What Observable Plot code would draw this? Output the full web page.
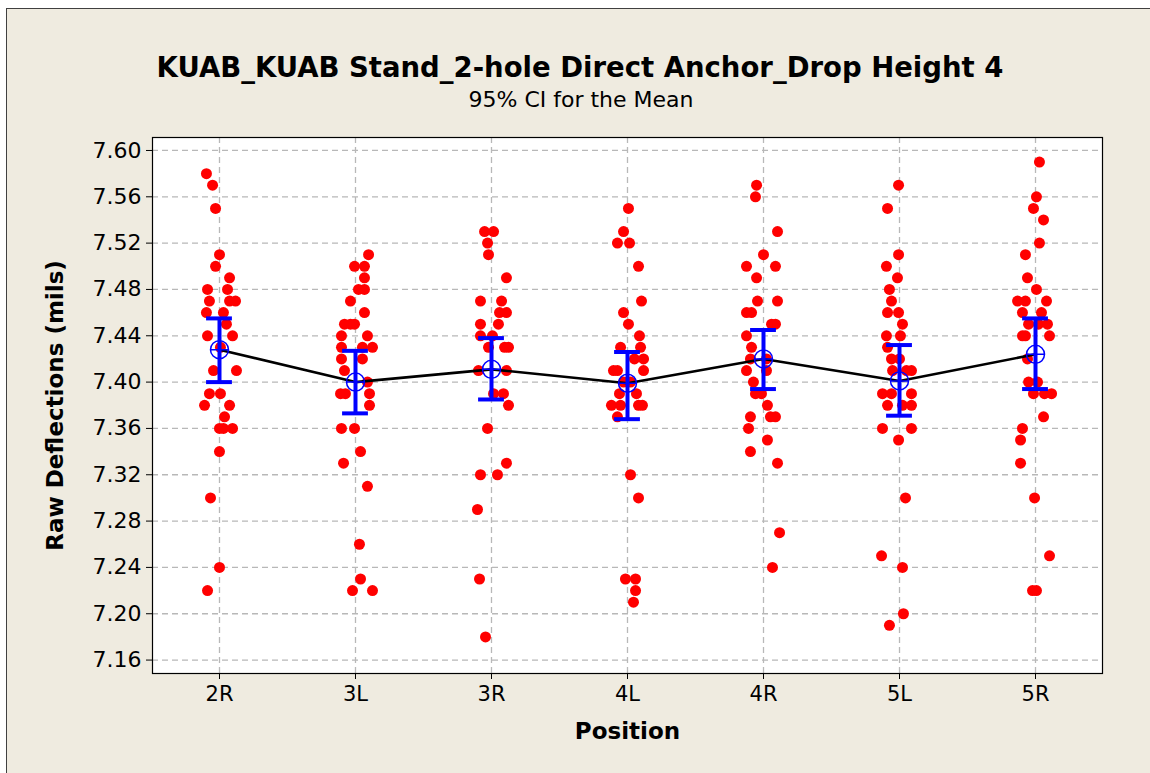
<!DOCTYPE html>
<html>
<head>
<meta charset="utf-8">
<script src="https://cdn.jsdelivr.net/npm/d3@7"></script>
<script src="https://cdn.jsdelivr.net/npm/@observablehq/plot@0.6"></script>
<style>
  html, body { margin: 0; padding: 0; background: #ffffff; }
  #page { position: relative; width: 1150px; height: 773px; overflow: hidden; font-family: "DejaVu Sans", Verdana, sans-serif; }
  #bg { position: absolute; left: 6px; top: 8px; right: 0; bottom: 0; background: #efebe0; border-left: 1.5px solid #404040; border-top: 1.5px solid #404040; }
  #title { position: absolute; left: 0; width: 1160px; top: 50px; text-align: center; font-weight: bold; font-size: 27.5px; line-height: 34px; color: #000; }
  #subtitle { position: absolute; left: 0; width: 1162px; top: 86px; text-align: center; font-size: 22px; line-height: 28px; color: #000; }
  #chart { position: absolute; left: 0; top: 0; }
</style>
</head>
<body>
<div id="page">
  <div id="bg"></div>
  <div id="chart"></div>
  <div id="title">KUAB_KUAB Stand_2-hole Direct Anchor_Drop Height 4</div>
  <div id="subtitle">95% CI for the Mean</div>
</div>
<script>
// ---- Data ----
const positions = ["2R", "3L", "3R", "4L", "4R", "5L", "5R"];

const values2R = [7.58,7.57,7.55,7.51,7.50,7.49,7.48,7.48,7.47,7.47,7.47,7.46,7.46,7.45,7.44,7.44,7.43,7.41,7.41,7.39,7.39,7.38,7.38,7.37,7.36,7.36,7.36,7.34,7.30,7.24,7.22];
const values3L = [7.51,7.50,7.50,7.49,7.48,7.48,7.47,7.46,7.45,7.45,7.45,7.44,7.44,7.43,7.43,7.43,7.42,7.42,7.41,7.40,7.39,7.39,7.39,7.38,7.36,7.36,7.34,7.33,7.31,7.26,7.23,7.22,7.22];
const values3R = [7.53,7.53,7.52,7.51,7.49,7.47,7.47,7.46,7.46,7.45,7.45,7.44,7.44,7.43,7.43,7.43,7.41,7.41,7.39,7.39,7.38,7.36,7.33,7.32,7.32,7.29,7.23,7.18];
const values4L = [7.55,7.53,7.52,7.52,7.50,7.47,7.46,7.45,7.44,7.43,7.43,7.42,7.42,7.41,7.41,7.41,7.40,7.40,7.39,7.39,7.38,7.38,7.38,7.38,7.37,7.32,7.30,7.23,7.23,7.22,7.21];
const values4R = [7.57,7.56,7.53,7.51,7.50,7.50,7.49,7.47,7.47,7.46,7.46,7.45,7.45,7.44,7.43,7.42,7.42,7.41,7.41,7.40,7.39,7.39,7.38,7.37,7.37,7.37,7.36,7.35,7.34,7.33,7.27,7.24];
const values5L = [7.57,7.55,7.51,7.50,7.49,7.48,7.47,7.46,7.46,7.45,7.44,7.44,7.43,7.42,7.42,7.41,7.41,7.41,7.39,7.39,7.39,7.38,7.38,7.38,7.36,7.36,7.35,7.30,7.25,7.24,7.20,7.19];
const values5R = [7.59,7.56,7.55,7.54,7.52,7.51,7.49,7.48,7.47,7.47,7.47,7.46,7.46,7.45,7.45,7.45,7.44,7.44,7.44,7.42,7.40,7.40,7.39,7.39,7.39,7.37,7.36,7.35,7.33,7.30,7.25,7.22,7.22];

// horizontal jitter of each point, in category units
const jitter2R = [-0.096,-0.051,-0.029,0,-0.029,0.074,-0.088,0.059,-0.074,0.074,0.118,-0.096,0.029,0.051,-0.088,0.096,0.007,-0.044,0.125,-0.074,0.007,-0.110,0.074,0.037,0,0.029,0.096,0,-0.066,0,-0.088];
const jitter3L = [0.096,-0.007,0.066,0.066,0.022,0.066,-0.037,0.066,-0.081,-0.037,-0.007,-0.103,0.088,-0.103,0.051,0.125,-0.103,0.051,-0.081,0.088,-0.110,-0.074,0.103,0.103,-0.103,-0.007,0.037,-0.088,0.088,0.029,0.037,-0.022,0.125];
const jitter3R = [-0.051,0.015,-0.029,-0.022,0.110,-0.081,0.074,0.059,0.110,-0.081,0.051,-0.081,0.007,-0.022,0.096,0.125,-0.096,0.110,0.015,0.088,0.125,-0.029,0.110,-0.081,0.044,-0.103,-0.088,-0.044];
const jitter4L = [0.007,-0.029,-0.074,0.015,0.081,0.103,-0.029,0.007,0.088,-0.051,0.096,0.051,0.118,-0.103,-0.074,0.118,-0.029,0.022,-0.059,0.066,-0.118,-0.051,0.081,0.110,-0.074,0.022,0.081,-0.015,0.059,0.059,0.044];
const jitter4R = [-0.051,-0.059,0.103,0,-0.125,0.088,-0.051,-0.044,0.103,-0.125,-0.088,0.059,0.088,-0.125,-0.088,-0.096,0.022,-0.125,0.022,-0.074,-0.059,-0.015,0.029,-0.096,0.051,0.088,-0.110,0.029,-0.096,0.103,0.118,0.066];
const jitter5L = [-0.007,-0.088,-0.007,-0.096,-0.015,-0.074,-0.059,-0.088,-0.007,0.022,-0.096,0.007,-0.088,-0.059,0,-0.051,0.051,0.088,-0.125,-0.059,0.088,-0.088,0.022,0.088,-0.125,0.088,-0.007,0.044,-0.132,0.022,0.029,-0.074];
const jitter5R = [0.029,0.007,-0.015,0.059,0.029,-0.074,-0.059,0.007,-0.132,-0.074,0.081,-0.096,0.044,-0.051,0.022,0.088,-0.096,-0.074,0.103,-0.059,-0.051,0.015,-0.015,0.066,0.118,0.059,-0.096,-0.110,-0.110,-0.007,0.103,-0.022,0.007];

const means = [7.428, 7.400, 7.411, 7.399, 7.420, 7.401, 7.424];
const ciLower = [7.400, 7.373, 7.385, 7.368, 7.394, 7.371, 7.394];
const ciUpper = [7.455, 7.427, 7.438, 7.426, 7.445, 7.432, 7.455];

const yTicks = [7.16, 7.20, 7.24, 7.28, 7.32, 7.36, 7.40, 7.44, 7.48, 7.52, 7.56, 7.60];

// ---- Build tables ----
const allValues = [values2R, values3L, values3R, values4L, values4R, values5L, values5R];
const allJitter = [jitter2R, jitter3L, jitter3R, jitter4L, jitter4R, jitter5L, jitter5R];
const points = [];
allValues.forEach((vals, i) => vals.forEach((v, j) => points.push({x: i + allJitter[i][j], value: v})));
const summary = positions.map((p, i) => ({i, mean: means[i], lo: ciLower[i], hi: ciUpper[i]}));

const capHalf = 0.095;
const font = "DejaVu Sans, Verdana, sans-serif";

const meanSymbol = {
  draw(ctx, size) {
    const r = Math.sqrt(size / Math.PI);
    ctx.moveTo(r, 0);
    ctx.arc(0, 0, r, 0, 2 * Math.PI);
    ctx.moveTo(-r, 0); ctx.lineTo(r, 0);
    ctx.moveTo(0, -r); ctx.lineTo(0, r);
  }
};

const chart = Plot.plot({
  width: 1150,
  height: 773,
  marginLeft: 152,
  marginRight: 48,
  marginTop: 137,
  marginBottom: 100,
  style: {background: "transparent", fontFamily: font, color: "#000"},
  x: {type: "linear", domain: [-0.4926, 6.4926]},
  y: {domain: [7.1484, 7.6112]},
  marks: [
    Plot.frame({fill: "white", stroke: "none"}),
    Plot.gridY(yTicks, {stroke: "#b8b8b8", strokeOpacity: 1, strokeWidth: 1.3, strokeDasharray: "6,4"}),
    Plot.gridX(d3.range(positions.length), {stroke: "#b8b8b8", strokeOpacity: 1, strokeWidth: 1.3, strokeDasharray: "6,4"}),
    Plot.axisY(yTicks, {tickFormat: d3.format(".2f"), tickSize: 6, tickPadding: 5, fontSize: 22, label: null}),
    Plot.axisX(d3.range(positions.length), {tickFormat: i => positions[i], tickSize: 6, tickPadding: 7, fontSize: 21, label: null}),
    Plot.dot(points, {x: "x", y: "value", r: 5.5, fill: "#ff0000", stroke: "none"}),
    Plot.line(summary, {x: "i", y: "mean", stroke: "black", strokeWidth: 2.6}),
    Plot.ruleX(summary, {x: "i", y1: "lo", y2: "hi", stroke: "#0000ff", strokeWidth: 4}),
    Plot.ruleY(summary, {y: "lo", x1: d => d.i - capHalf, x2: d => d.i + capHalf, stroke: "#0000ff", strokeWidth: 4}),
    Plot.ruleY(summary, {y: "hi", x1: d => d.i - capHalf, x2: d => d.i + capHalf, stroke: "#0000ff", strokeWidth: 4}),
    Plot.dot(summary, {x: "i", y: "mean", r: 9, symbol: meanSymbol, stroke: "#0000ff", fill: "none", strokeWidth: 1.5}),
    Plot.frame({stroke: "black", strokeWidth: 1.2}),
    Plot.text(["Raw Deflections (mils)"], {frameAnchor: "left", dx: -97, rotate: -90, fontSize: 23, fontWeight: "bold", textAnchor: "middle", lineAnchor: "middle"}),
    Plot.text(["Position"], {frameAnchor: "bottom", dy: 58, fontSize: 23, fontWeight: "bold", lineAnchor: "middle"})
  ]
});
document.getElementById("chart").appendChild(chart);
</script>
</body>
</html>
